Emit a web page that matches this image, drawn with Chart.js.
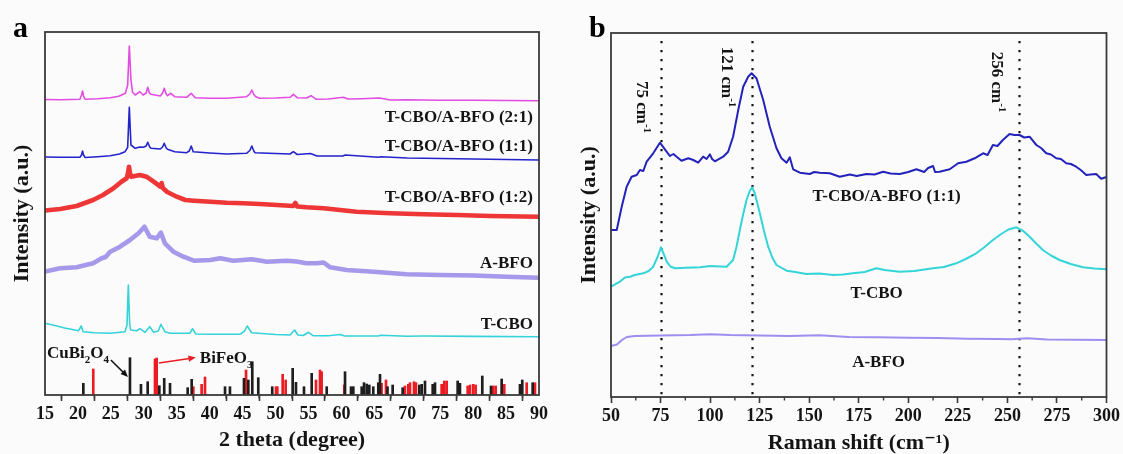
<!DOCTYPE html>
<html>
<head>
<meta charset="utf-8">
<script src="https://cdn.jsdelivr.net/npm/chart.js@4"></script>
<style>
  html, body { margin: 0; padding: 0; background: #fbfbfb; }
  #wrap { position: relative; width: 1123px; height: 454px; overflow: hidden; }
  canvas { position: absolute; top: 0; }
  #xrd { left: 0; }
  #raman { left: 560px; }
</style>
</head>
<body>
<div id="wrap">
  <canvas id="xrd" width="560" height="454"></canvas>
  <canvas id="raman" width="563" height="454"></canvas>
</div>
<script>
// ---------- (a) XRD patterns: [2 theta (deg), intensity (a.u., stacked)] ----------
const xrdCboBfo21 = [[15,295.5],[17.3,295.2],[20.3,295.7],[20.55,300],[20.7,304],[20.85,299],[21.1,295.7],[23,296.2],[24.9,297.3],[26.2,298.8],[27.2,301.7],[27.55,310],[27.8,349],[28.05,315],[28.3,302.5],[28.7,300],[29.4,303.3],[29.9,300],[30.35,302],[30.6,307.7],[30.85,302],[31.1,300.7],[32.5,299],[32.85,302],[33.1,306.7],[33.4,301],[33.6,299.3],[34.1,301.7],[34.7,298.3],[36.5,297.7],[37.2,301.7],[37.8,297.3],[40,296.8],[42.6,296.7],[45.6,298.3],[46.1,301],[46.4,305],[46.7,300.5],[47,298.3],[47.6,296.7],[50,297],[52.2,297.7],[52.7,300.7],[53.3,297.3],[54.7,297],[55.4,299.3],[56.2,295.7],[58,296],[60.3,297.8],[61,296],[63,296.3],[65.8,297],[67.4,295],[70,295.2],[75,294.8],[80,294.7],[85,294.5],[90,294.3]];
const xrdCboBfo11 = [[15,238],[17.3,237.7],[20.3,237.7],[20.55,240],[20.7,244],[20.85,240],[21.1,237.5],[23,238.3],[24.9,239.3],[26.3,241],[27.15,243.3],[27.55,247.7],[27.8,287.7],[28.05,250],[28.7,246.7],[29.4,248],[29.95,247.7],[30.35,249],[30.6,252.7],[30.9,248],[31.1,246.7],[32.5,246],[32.85,248],[33.1,251.7],[33.4,247],[33.6,245.7],[34.7,243.3],[36.5,242.3],[36.9,244],[37.2,249],[37.5,243.3],[40,242],[42.6,241],[45.6,241.7],[46.1,244.5],[46.4,249],[46.7,244],[46.9,242.3],[50,241.5],[52.2,241],[52.7,243.3],[53.3,240.5],[55.3,241.5],[56.3,239],[60.2,239],[60.6,240],[65.6,237.7],[66,238.3],[70,237],[75,236.5],[80,236],[85,235.5],[90,235]];
const xrdCboBfo12 = [[15,184.5],[17.3,186],[19.8,189],[22.3,195],[23.8,200],[25.4,206.7],[26.6,213.3],[27.4,216.7],[27.6,222],[27.75,228.3],[27.9,222],[28.1,218.3],[29.4,220],[30.4,218.3],[31.5,213.3],[32.5,208.3],[32.7,212],[32.9,207],[33.5,203.3],[35,198.3],[36.3,195],[37.6,194.3],[40.1,193.3],[42.6,192.3],[45.1,191.7],[47.6,191],[50.2,190],[52.7,189],[53,192],[53.3,188.5],[54.7,187.7],[57.3,186.7],[62.3,183.3],[67.4,181.7],[72.5,180.7],[77.6,180],[82.6,179],[90,178.3]];
const xrdABfo = [[15,123.5],[17.3,126.7],[19.8,127.7],[22.3,131.7],[23.6,136.7],[24.2,138],[24.9,143.3],[26.4,148.3],[27.9,155],[29.2,161.7],[30.1,168.3],[30.9,158.3],[31.95,156.7],[32.6,162.3],[33.2,151.7],[34.5,143.3],[36,138.3],[37.6,134.3],[40.1,135],[41.6,136.7],[43.6,134.3],[46.4,135.7],[48.7,133.3],[51.7,134.3],[53.2,133.5],[54.7,131.7],[56.3,131.7],[57.3,132.5],[58.3,127.7],[60.8,125],[64.9,123.3],[69.9,120.7],[75,120],[80.1,119.5],[85.1,118.3],[90,117.3]];
const xrdTCbo = [[15,71.7],[16.5,69.5],[18,67],[20.1,64.3],[20.5,69],[20.8,63.3],[22.5,62.3],[24.9,61.7],[27.15,63.3],[27.45,70],[27.65,110],[27.85,72],[28,65],[28.9,64.3],[29.4,66.3],[30.2,62.7],[30.9,68.3],[31.5,62.7],[32.2,64],[32.6,70.7],[33.2,63.3],[34,61.7],[37,61.7],[37.4,66.3],[37.9,61],[40,60.8],[44.6,60.7],[45.3,64],[45.7,69],[46.1,65],[46.4,62.3],[50,60.5],[52.2,60],[52.9,65],[53.4,60],[54.2,59.5],[55,62.7],[55.7,59.3],[58,59.2],[59.8,60.5],[60.5,59],[65.6,59],[66,59.8],[70,58.8],[72.5,59],[80,58.6],[90,58.3]];

// reference stick patterns [2 theta, relative height]
const refCuBi2O4 = [[20.82,11.7],[27.9,37.3],[29.57,10.7],[30.59,13.3],[32.36,9.3],[33.1,16.7],[33.98,11.7],[36.66,7.3],[37.27,15.7],[42.33,8.3],[43.08,8.3],[45.21,16.7],[45.87,15],[46.47,33.3],[47.38,17.3],[49.5,8.3],[52.6,26.7],[53.1,12.7],[54.32,8.3],[55.49,21.7],[57.77,8.3],[60.55,23.3],[61.46,8.3],[61.81,8.3],[63.08,8.3],[63.43,12.3],[63.84,11],[64.24,10],[64.84,8.3],[65.6,12.3],[65.86,20.7],[67,8.3],[67.78,10],[69.3,7.3],[71.83,10],[72.19,10.7],[72.69,14],[73.86,10.7],[74.21,12.3],[77.65,14],[78,11.7],[81.39,19],[82.71,9],[84.33,16],[87.11,10.7],[87.46,15],[89.04,12.3]];
const refBiFeO3 = [[22.33,26],[31.7,36],[31.95,37],[37.52,8.3],[38.78,10.7],[39.29,18],[45.52,25],[50.07,8.3],[50.27,8.3],[51.08,20.7],[51.54,15],[56.14,15],[56.75,25],[57,23.3],[60.44,10],[66.1,11.7],[66.77,15],[69.65,9],[70.16,10.7],[70.41,12.3],[71.02,13.3],[71.32,12.3],[75.22,10.7],[75.62,14],[75.98,14],[79.17,9],[79.52,10],[80.02,10.7],[80.38,10],[83.07,9],[83.42,9],[84.73,10.7],[88.13,12.3],[89.39,12.3]];

const xrdSamples = ['T-CBO/A-BFO (2:1)', 'T-CBO/A-BFO (1:1)', 'T-CBO/A-BFO (1:2)', 'A-BFO', 'T-CBO'];
const xrdLabelLevels = [279, 250, 199, 133, 72];
const xrdTicks = { min: 15, max: 90, step: 5 };

// ---------- (b) Raman spectra: [Raman shift (cm-1), intensity (a.u., stacked)] ----------
const ramanCboBfo11 = [[50,167],[52.9,167],[55.4,190.3],[57.9,210.3],[60.4,220.3],[63,222],[64.6,227],[66.3,226],[68,235.3],[71.3,243.7],[74.7,254.3],[77.2,247.7],[79.7,241],[81.5,243],[83.1,240.3],[85.6,236.3],[89,238.7],[91.5,237],[94,234.3],[96.5,240.3],[98.2,238],[99.9,242.7],[101,238],[102.4,235.7],[106.6,240.3],[109.1,245.3],[111.6,260.3],[114.2,287],[116.7,310.3],[119.2,320.3],[120.9,323.7],[123.4,318.7],[126.8,297],[130.1,270.3],[133.5,248.7],[136,238.7],[138.6,234.3],[140.2,239.7],[141.9,227.7],[145.3,224.3],[150.3,223],[152.5,225],[155.3,224.3],[160.4,223.7],[165.4,220.3],[170.5,222.5],[174,221],[178.9,223],[183,222.5],[187.3,225.3],[191,223.5],[195.7,223],[200,225],[204.1,227.7],[208,225],[210,229],[212.5,231],[213.5,225],[215.8,225.3],[220.9,227.7],[225.1,233.7],[229.3,235.3],[233.5,238.7],[237.7,243.7],[240,242],[242.7,252],[245,251],[247.7,257],[251.1,263],[253.5,262],[256.1,262],[258.5,259.5],[261.2,260.3],[264.6,252],[267,249],[269.6,243.7],[272,242.5],[274.6,238.7],[277,238],[279.7,233.7],[282,233],[284.7,230.3],[287,227],[289.8,222],[292,222.5],[294.8,223],[297.3,218.3],[300,220]];
const ramanTCbo = [[50,110.3],[54.5,115.3],[57,119.5],[59.6,120.3],[62,122],[66.3,123.7],[69,126],[71.3,130.3],[73.5,140],[75.2,149.7],[76.8,142],[78.1,135.3],[80,130.5],[82.3,128.7],[88,129.3],[94.9,129.7],[100,131],[105,130.5],[108.3,130.3],[111.6,137],[113.3,150],[115,167],[116.7,183],[118.4,197],[120,206],[121.2,209.7],[122.5,204],[125.1,183.7],[127.2,166],[129.3,150.3],[131.5,139],[133.5,132],[138.6,126.3],[143,125],[148.6,123],[155,123.5],[162.1,122],[167,122.5],[172.1,123.7],[178,125],[183.9,128.7],[188,127],[195.7,125.3],[203,126],[212.5,128.7],[218,130],[224.2,133.7],[229,138],[234.3,143.7],[238.5,150],[242.7,157],[246.5,162.5],[250.5,167.5],[254.5,169.7],[258,166],[261.2,160.3],[264.5,153.5],[267.9,147],[272,141.5],[276.3,137],[282,133],[288.1,129.7],[294,128.5],[300,127.7]];
const ramanABfo = [[50,51],[53,52.5],[55.5,57],[58,60],[62,61],[75,61.5],[90,62],[100,62.8],[110,62],[125,61.5],[140,61],[155,61.8],[170,60],[185,59.8],[200,59.2],[215,59],[230,58.3],[245,58],[252,57.8],[260,58.8],[270,57.5],[285,57.2],[300,57]];

const ramanSamples = ['T-CBO/A-BFO (1:1)', 'T-CBO', 'A-BFO'];
const ramanLabelPos = [[189, 202], [184, 105], [185, 36]];
const ramanPeaks = [75, 121, 256];
const ramanPeakLabelPos = [[66.1, 290], [109, 320], [245.1, 315]];
const ramanTicks = { min: 50, max: 300, step: 25 };

// ---------- drawing helpers ----------
const SERIF = '"Liberation Serif", "Times New Roman", "DejaVu Serif", serif';
const INK = '#141414';
const FRAME = '#3a3a3a';

const toXY = arr => arr.map(([x, y]) => ({ x, y }));

function partFont(p, size) {
  return 'bold ' + (p.s ? Math.round(size * 0.64) : size) + 'px ' + SERIF;
}
// text with sub/superscripts; y is the baseline
function drawRich(ctx, parts, x, y, size, align) {
  let w = 0;
  parts.forEach(p => { ctx.font = partFont(p, size); w += ctx.measureText(p.t).width; });
  let cx = align === 'right' ? x - w : align === 'center' ? x - w / 2 : x;
  parts.forEach(p => {
    ctx.font = partFont(p, size);
    const dy = p.s === 'sub' ? size * 0.3 : p.s === 'sup' ? -size * 0.38 : 0;
    ctx.fillText(p.t, cx, y + dy);
    cx += ctx.measureText(p.t).width;
  });
}

function arrow(ctx, x1, y1, x2, y2, color) {
  const a = Math.atan2(y2 - y1, x2 - x1), h = 8;
  ctx.strokeStyle = color; ctx.fillStyle = color; ctx.lineWidth = 1.6; ctx.setLineDash([]);
  ctx.beginPath(); ctx.moveTo(x1, y1);
  ctx.lineTo(x2 - h * 0.8 * Math.cos(a), y2 - h * 0.8 * Math.sin(a)); ctx.stroke();
  ctx.beginPath(); ctx.moveTo(x2, y2);
  ctx.lineTo(x2 - h * Math.cos(a - 0.4), y2 - h * Math.sin(a - 0.4));
  ctx.lineTo(x2 - h * Math.cos(a + 0.4), y2 - h * Math.sin(a + 0.4));
  ctx.closePath(); ctx.fill();
}

// frame, minor ticks, dotted guides, labels and arrows
function makeNotes(cfg) {
  return {
    id: 'notes',
    beforeDatasetsDraw(chart) {
      const { ctx, chartArea: a, scales: { x } } = chart;
      ctx.save();
      ctx.strokeStyle = INK; ctx.lineWidth = 2.2; ctx.setLineDash([2.2, 6.8]);
      (cfg.vlines || []).forEach(v => {
        const px = Math.round(x.getPixelForValue(v)) + 0.5;
        ctx.beginPath(); ctx.moveTo(px, a.top + 8); ctx.lineTo(px, a.bottom); ctx.stroke();
      });
      ctx.restore();
    },
    afterDraw(chart) {
      const { ctx, chartArea: a, scales: { x, y } } = chart;
      ctx.save();
      ctx.strokeStyle = FRAME; ctx.lineWidth = 1.8; ctx.setLineDash([]);
      ctx.strokeRect(a.left, a.top, a.right - a.left, a.bottom - a.top);
      ctx.lineWidth = 1.4;
      for (let v = cfg.minorStart; v < x.max; v += cfg.minorStep) {
        const px = x.getPixelForValue(v);
        ctx.beginPath(); ctx.moveTo(px, a.bottom); ctx.lineTo(px, a.bottom + 3.5); ctx.stroke();
      }
      ctx.fillStyle = INK; ctx.textBaseline = 'alphabetic';
      (cfg.texts || []).forEach(t => {
        const px = x.getPixelForValue(t.x), py = y.getPixelForValue(t.y);
        ctx.fillStyle = INK;
        if (t.rotate) {
          ctx.save(); ctx.translate(px, py); ctx.rotate(Math.PI / 2);
          drawRich(ctx, t.parts, 0, t.size * 0.33, t.size, 'center');
          ctx.restore();
        } else {
          drawRich(ctx, t.parts, px, t.baseline ? py : py + t.size * 0.33, t.size, t.align || 'left');
        }
      });
      (cfg.arrows || []).forEach(r => {
        arrow(ctx, x.getPixelForValue(r.from[0]), y.getPixelForValue(r.from[1]),
              x.getPixelForValue(r.to[0]), y.getPixelForValue(r.to[1]), r.color);
      });
      ctx.restore();
    }
  };
}

// panel letters
const panelLetter = (letter, px, py) => ({
  id: 'panelLetter',
  afterDraw(chart) {
    const ctx = chart.ctx;
    ctx.save(); ctx.fillStyle = '#000'; ctx.font = 'bold 30px ' + SERIF;
    ctx.textBaseline = 'alphabetic'; ctx.fillText(letter, px, py); ctx.restore();
  }
});

function lineSet(label, data, color, width) {
  return { type: 'line', label, data: toXY(data), borderColor: color, borderWidth: width,
           pointRadius: 0, tension: 0, fill: false, borderJoinStyle: 'round' };
}

function axisX(t, title, titlePad, height) {
  return {
    type: 'linear', min: t.min, max: t.max, offset: false,
    afterFit(s) { s.height = height; },
    ticks: { stepSize: t.step, color: INK, padding: 3, maxRotation: 0, autoSkip: false,
             font: { family: SERIF, size: 18, weight: 'bold' } },
    grid: { display: true, drawOnChartArea: false, drawTicks: true, tickLength: 6,
            tickColor: FRAME, tickWidth: 1.6 },
    border: { display: false },
    title: { display: true, text: title, color: INK, padding: { top: 0, bottom: titlePad },
             font: { family: SERIF, size: 22, weight: 'bold', lineHeight: 1 } }
  };
}
function axisY(max, width, titlePad) {
  return {
    type: 'linear', min: 0, max,
    afterFit(s) { s.width = width; },
    ticks: { display: false }, grid: { display: false }, border: { display: false },
    title: { display: true, text: 'Intensity (a.u.)', color: INK, padding: { top: titlePad, bottom: 0 },
             font: { family: SERIF, size: 22, weight: 'bold', lineHeight: 1.2 } }
  };
}

const common = {
  responsive: false, animation: false, devicePixelRatio: 1,
  plugins: { legend: { display: false }, tooltip: { enabled: false } },
  elements: { line: { capBezierPoints: false } }
};

// ---------- (a) XRD ----------
// the two amorphous-rich patterns are noisy, drawn as a wider soft band
const xrdColors = ['#e24ce2', '#2323cc', 'rgba(236,26,26,0.88)', 'rgba(150,134,230,0.85)', '#34d2da'];
const xrdWidths = [1.6, 1.6, 4.6, 4.6, 1.6];
const xrdSeries = [xrdCboBfo21, xrdCboBfo11, xrdCboBfo12, xrdABfo, xrdTCbo];

new Chart(document.getElementById('xrd'), {
  type: 'line',
  data: {
    datasets: [
      { type: 'bar', label: 'CuBi2O4', data: toXY(refCuBi2O4), backgroundColor: '#1e1e1e',
        barThickness: 2, grouped: false },
      { type: 'bar', label: 'BiFeO3', data: toXY(refBiFeO3), backgroundColor: '#ec1c24',
        barThickness: 2, grouped: false },
      ...xrdSeries.map((s, i) => lineSet(xrdSamples[i], s, xrdColors[i], xrdWidths[i]))
    ]
  },
  options: {
    ...common,
    layout: { padding: { top: 32, right: 21, left: 0, bottom: 0 } },
    scales: { x: axisX(xrdTicks, '2 theta (degree)', 3, 59), y: axisY(363, 45, 9) }
  },
  plugins: [
    makeNotes({
      minorStart: 17.5, minorStep: 5,
      texts: [
        ...xrdSamples.map((s, i) => ({ x: 89.08, y: xrdLabelLevels[i], parts: [{ t: s }], size: 17, align: 'right' })),
        { x: 15.3, y: 37.3, baseline: true, size: 17, parts: [{ t: 'CuBi' }, { t: '2', s: 'sub' }, { t: 'O' }, { t: '4', s: 'sub' }] },
        { x: 38.5, y: 32, baseline: true, size: 17, parts: [{ t: 'BiFeO' }, { t: '3', s: 'sub' }] }
      ],
      arrows: [
        { from: [25.0, 35], to: [27.6, 18], color: '#111' },
        { from: [32.3, 32], to: [37.9, 37.5], color: '#ec1c24' }
      ]
    }),
    panelLetter('a', 13, 37)
  ]
});

// ---------- (b) Raman ----------
const ramanColors = ['#2323bb', '#34d4d8', '#9d8ff0'];
const ramanSeries = [ramanCboBfo11, ramanTCbo, ramanABfo];

new Chart(document.getElementById('raman'), {
  type: 'line',
  data: { datasets: ramanSeries.map((s, i) => lineSet(ramanSamples[i], s, ramanColors[i], 2)) },
  options: {
    ...common,
    layout: { padding: { top: 33, right: 16, left: 0, bottom: 0 } },
    scales: { x: axisX(ramanTicks, 'Raman shift (cm\u207B\u00B9)', 0, 57), y: axisY(364, 51, 16) }
  },
  plugins: [
    makeNotes({
      minorStart: 62.5, minorStep: 25,
      vlines: ramanPeaks,
      texts: [
        ...ramanSamples.map((s, i) => ({ x: ramanLabelPos[i][0], y: ramanLabelPos[i][1], parts: [{ t: s }], size: 17, align: 'center' })),
        ...ramanPeaks.map((p, i) => ({ x: ramanPeakLabelPos[i][0], y: ramanPeakLabelPos[i][1], rotate: true, size: 17,
                                        parts: [{ t: p + ' cm' }, { t: '-1', s: 'sup' }] }))
      ]
    }),
    panelLetter('b', 29, 37)
  ]
});
</script>
</body>
</html>
